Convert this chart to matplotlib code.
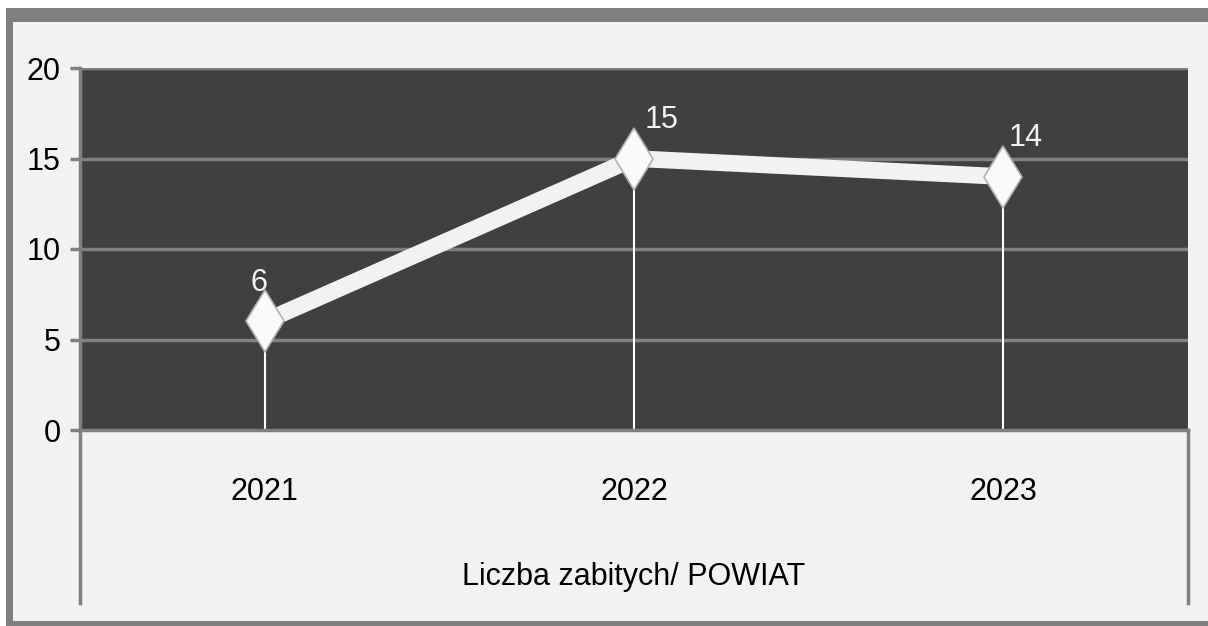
"""
Liczba zabitych / POWIAT - wykres liniowy
"""
import matplotlib
matplotlib.use('Agg')
import matplotlib.pyplot as plt
from matplotlib.patches import Rectangle
from matplotlib import font_manager

# Dane
years = ['2021', '2022', '2023']
killed = [6, 15, 14]
y_ticks = [0, 5, 10, 15, 20]
axis_title = 'Liczba zabitych/ POWIAT'

# Czcionka - waska jak w oryginale
names = {f.name for f in font_manager.fontManager.ttflist}
font = 'Liberation Sans Narrow' if 'Liberation Sans Narrow' in names else 'Liberation Sans'
plt.rcParams['font.family'] = [font, 'DejaVu Sans']
FS = 22

W, H = 1208, 626
fig = plt.figure(figsize=(W / 100, H / 100), dpi=100)
fig.patch.set_facecolor('white')


def fx(px):
    return px / W


def fy(py):
    return 1 - py / H


# Ramka zewnetrzna (prawa krawedz obcieta jak w oryginale)
fig.patches.append(Rectangle((fx(6), fy(630)), fx(1210), fy(8) - fy(630),
                             transform=fig.transFigure, facecolor='#7f7f7f',
                             edgecolor='none', zorder=-10))
fig.patches.append(Rectangle((fx(13), fy(621)), fx(W), fy(22) - fy(621),
                             transform=fig.transFigure, facecolor='#f2f2f2',
                             edgecolor='none', zorder=-9))

# Obszar wykresu
left, right, top, bottom = 80, 1188, 68, 430
ax = fig.add_axes([fx(left), fy(bottom), fx(right - left), fy(top) - fy(bottom)])
ax.set_facecolor('#404040')
ax.set_xlim(-0.5, len(years) - 0.5)
ax.set_ylim(0, 20)

for s in ['top', 'right']:
    ax.spines[s].set_visible(False)
ax.spines['left'].set_color('#808080')
ax.spines['left'].set_linewidth(2.5)
ax.spines['bottom'].set_color('#808080')
ax.spines['bottom'].set_linewidth(2.5)

ax.set_yticks(y_ticks)
ax.set_yticklabels([str(t) for t in y_ticks], fontsize=FS, color='black')
ax.tick_params(axis='y', length=7, width=2.5, color='#808080', pad=7)
ax.set_xticks([])
for t in y_ticks[1:]:
    ax.axhline(t, color='#808080', linewidth=2.5, zorder=1)

x = list(range(len(years)))
# linie pionowe do osi
ax.vlines(x, 0, killed, colors='white', linewidth=1.5, zorder=2)
ax.plot(x, killed, color='#f2f2f2', linewidth=12, solid_joinstyle='miter', zorder=3)
ax.plot(x, killed, linestyle='none', marker='d', markersize=32,
        markerfacecolor='#fafafa', markeredgecolor='#b0b0b0', markeredgewidth=1.2, zorder=4)

label_dx = [-4, 20, 16]
for xi, v, dx in zip(x, killed, label_dx):
    ax.annotate(str(v), (xi, v), xytext=(dx, 17), textcoords='offset points',
                ha='center', va='bottom', fontsize=FS, color='#f2f2f2')

# Os kategorii pod wykresem
cat = fig.add_axes([fx(left), fy(603), fx(right - left), fy(bottom) - fy(603)])
cat.set_xlim(-0.5, len(years) - 0.5)
cat.set_ylim(0, 1)
cat.patch.set_visible(False)
cat.set_xticks([])
cat.set_yticks([])
for s in ['top', 'bottom']:
    cat.spines[s].set_visible(False)
for s in ['left', 'right']:
    cat.spines[s].set_color('#808080')
    cat.spines[s].set_linewidth(2.5)
for xi, yr in zip(x, years):
    cat.text(xi, 0.64, yr, ha='center', va='center', fontsize=FS, color='black')
cat.text(1, 0.15, axis_title, ha='center', va='center', fontsize=FS, color='black')

plt.savefig('out.png', dpi=100)
